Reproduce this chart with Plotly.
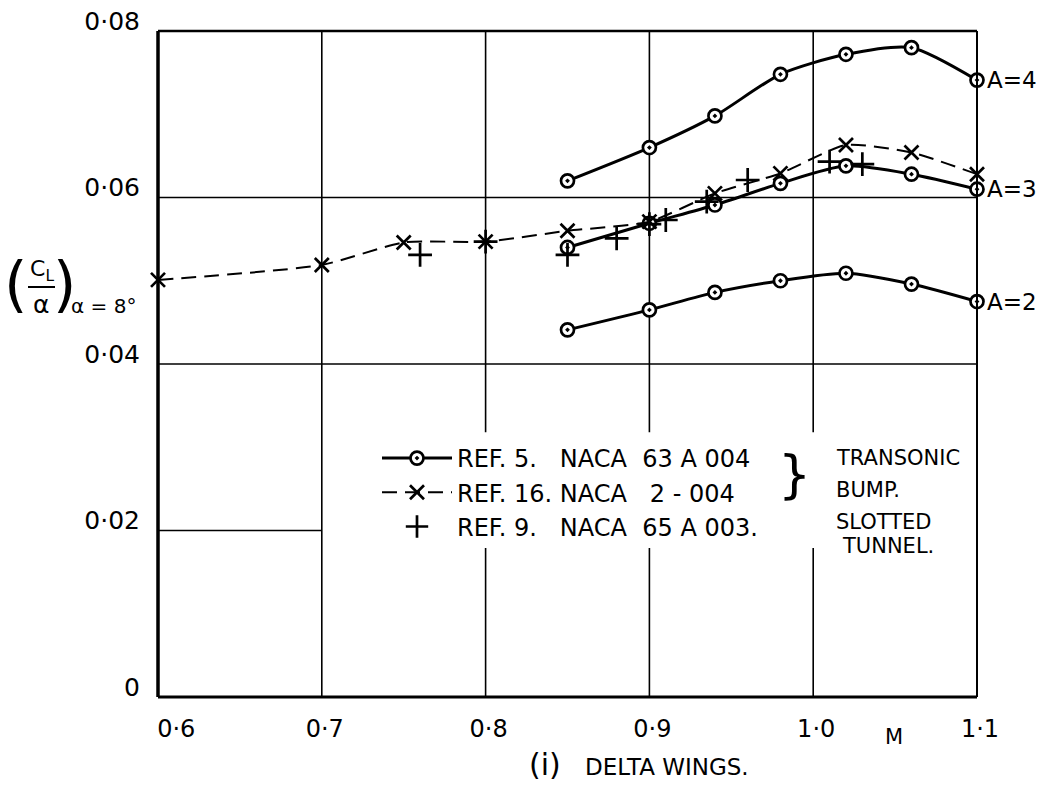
import plotly.graph_objects as go

# ---------------- data ----------------
mach_ref5 = [0.85, 0.90, 0.94, 0.98, 1.02, 1.06, 1.10]
cl_a4 = [0.0620, 0.0660, 0.0698, 0.0748, 0.0772, 0.0780, 0.0741]
cl_a3 = [0.0540, 0.0569, 0.0591, 0.0617, 0.0638, 0.0628, 0.0610]
cl_a2 = [0.0441, 0.0465, 0.0486, 0.0500, 0.0509, 0.0496, 0.0475]

mach_ref16 = [0.60, 0.70, 0.75, 0.80, 0.85, 0.90, 0.94, 0.98, 1.02, 1.06, 1.10]
cl_ref16 = [0.0501, 0.0519, 0.0546, 0.0547, 0.0560, 0.0571, 0.0605, 0.0629, 0.0663, 0.0654, 0.0628]

mach_ref9 = [0.76, 0.80, 0.85, 0.88, 0.90, 0.91, 0.935, 0.96, 1.01, 1.03]
cl_ref9 = [0.0531, 0.0547, 0.0531, 0.0551, 0.0568, 0.0573, 0.0595, 0.0621, 0.0643, 0.0640]

x_ticks = [0.6, 0.7, 0.8, 0.9, 1.0, 1.1]
x_ticktext = ["\u00a0\u00a0\u00a0\u00a00·6", "0·7", "0·8", "0·9", "1·0", "1·1"]
y_ticks = [0, 0.02, 0.04, 0.06, 0.08]
y_ticktext = ["0", "0·02", "0·04", "0·06", "0·08"]

curve_labels = ["A=4", "A=3", "A=2"]
NB = "\u00a0"
legend_names = [
    "REF." + NB + "5." + NB * 3 + "NACA" + NB * 2 + "63" + NB + "A" + NB + "004",
    "REF." + NB + "16." + NB + "NACA" + NB * 3 + "2" + NB + "-" + NB + "004",
    "REF." + NB + "9." + NB * 3 + "NACA" + NB * 2 + "65" + NB + "A" + NB + "003.",
]
side_notes = ["TRANSONIC", "BUMP.", "SLOTTED", "TUNNEL."]

# ---------------- layout geometry ----------------
W, H = 1050, 789
L, R, T, B = 158, 977, 31, 697
FONT = "DejaVu Sans"

def px(xp):
    return (xp - L) / (R - L)

def py(yp):
    return (B - yp) / (B - T)

fig = go.Figure()

circle_marker = dict(symbol="circle-dot", size=13, color="white",
                     line=dict(color="black", width=2.7))
solid = dict(color="black", width=3, shape="spline", smoothing=0.7)

for i, (vals, lab) in enumerate(zip([cl_a4, cl_a3, cl_a2], curve_labels)):
    fig.add_trace(go.Scatter(
        x=mach_ref5, y=vals, mode="lines+markers",
        line=solid, marker=circle_marker,
        name=legend_names[0], legendgroup="ref5", showlegend=(i == 0),
        cliponaxis=False))

fig.add_trace(go.Scatter(
    x=mach_ref16, y=cl_ref16, mode="lines+markers",
    line=dict(color="black", width=2, dash="15px,8px", shape="spline", smoothing=0.6),
    marker=dict(symbol="x-thin", size=14, line=dict(color="black", width=2.7)),
    name=legend_names[1], cliponaxis=False))

fig.add_trace(go.Scatter(
    x=mach_ref9, y=cl_ref9, mode="markers",
    marker=dict(symbol="cross-thin", size=17, line=dict(color="black", width=2.7)),
    name=legend_names[2], cliponaxis=False))

# ---------------- grid lines with a gap behind the legend ----------------
gap_x0, gap_y0, gap_y1 = 0.705, 0.0179, 0.0318
shapes = []
for xv in x_ticks[1:-1]:
    if xv > gap_x0:
        segs = [(0, gap_y0), (gap_y1, 0.08)]
    else:
        segs = [(0, 0.08)]
    for y0, y1 in segs:
        shapes.append(dict(type="line", xref="x", yref="y", x0=xv, x1=xv, y0=y0, y1=y1,
                           line=dict(color="black", width=1.6), layer="below"))
for yv in y_ticks[1:-1]:
    x1 = 0.70 if gap_y0 < yv < gap_y1 else 1.1
    shapes.append(dict(type="line", xref="x", yref="y", x0=0.6, x1=x1, y0=yv, y1=yv,
                       line=dict(color="black", width=1.6), layer="below"))

# frame
shapes += [
    dict(type="line", xref="paper", yref="paper", x0=0, x1=0, y0=0, y1=1, line=dict(color="black", width=3.5)),
    dict(type="line", xref="paper", yref="paper", x0=0, x1=1, y0=0, y1=0, line=dict(color="black", width=3)),
    dict(type="line", xref="paper", yref="paper", x0=0, x1=1, y0=1, y1=1, line=dict(color="black", width=2.5)),
    dict(type="line", xref="paper", yref="paper", x0=1, x1=1, y0=0, y1=1, line=dict(color="black", width=2)),
]

# fraction bar of the y-axis title
shapes.append(dict(type="line", xref="paper", yref="paper", x0=px(28), x1=px(55),
                   y0=py(287), y1=py(287), line=dict(color="black", width=2)))

annotations = []

def ann(text, xp, yp, size, xanchor="center", yanchor="middle"):
    annotations.append(dict(text=text, x=px(xp), y=py(yp), xref="paper", yref="paper",
                            showarrow=False, xanchor=xanchor, yanchor=yanchor,
                            font=dict(family=FONT, size=size, color="black")))

# y-axis title (C_L / alpha)_{alpha = 8 deg}
ann("(", 15, 284, 60)
ann(")", 64, 284, 60)
ann("C<sub>L</sub>", 42, 270, 22)
ann("α", 41, 304, 25)
ann("α = 8°", 69, 306, 20, xanchor="left")

# curve labels at right
label_y = [cl_a4[-1], cl_a3[-1], cl_a2[-1]]
for lab, yv in zip(curve_labels, label_y):
    annotations.append(dict(text=lab, x=1.1, y=yv, xref="x", yref="y", showarrow=False,
                            xanchor="left", yanchor="middle", xshift=8,
                            font=dict(family=FONT, size=23, color="black")))

# M label and caption
ann("M", 894, 737, 21)
ann("(i)", 545, 764, 30)
ann("DELTA WINGS.", 667, 767, 23)

# brace and side notes of legend
ann("}", 794, 474, 52)
for note, yp, xo in zip(side_notes, [458, 490, 522, 546], [834, 834, 834, 840]):
    ann(note, xo, yp, 21, xanchor="left")

fig.update_layout(
    width=W, height=H,
    margin=dict(l=L, r=W - R, t=T, b=H - B, autoexpand=False),
    paper_bgcolor="white", plot_bgcolor="white",
    font=dict(family=FONT, color="black"),
    xaxis=dict(range=[0.6, 1.1], tickvals=x_ticks, ticktext=x_ticktext,
               showgrid=False, zeroline=False, showline=False, ticks="",
               tickfont=dict(family=FONT, size=24), ticklabelstandoff=15,
               ticklabelshift=3, automargin=False),
    yaxis=dict(range=[0, 0.08], tickvals=y_ticks, ticktext=y_ticktext,
               showgrid=False, zeroline=False, showline=False, ticks="",
               tickfont=dict(family=FONT, size=25), ticklabelstandoff=17,
               ticklabelshift=-10, automargin=False),
    legend=dict(x=px(377), y=py(436), xanchor="left", yanchor="top",
                bgcolor="rgba(0,0,0,0)", font=dict(family=FONT, size=24),
                itemwidth=70, tracegroupgap=0),
    shapes=shapes, annotations=annotations,
)

fig.write_html("out.html")
